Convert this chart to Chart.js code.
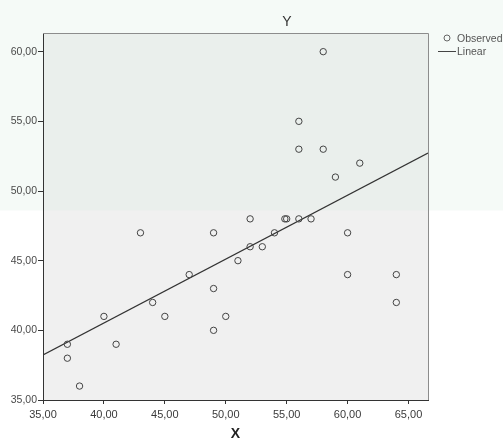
<!DOCTYPE html>
<html>
<head>
<meta charset="utf-8">
<script src="https://cdn.jsdelivr.net/npm/chart.js@4"></script>
<style>
    html, body { margin: 0; padding: 0; background: #ffffff; }
    #wrap { width: 503px; height: 441px; position: relative; }
</style>
</head>
<body>
<div id="wrap"><canvas id="chart" width="503" height="441"></canvas></div>
<script>
// Observed points (X, Y)
const obsX = [58, 56, 56, 58, 61, 59, 43, 49, 52, 54.85, 55, 56, 57, 54, 60, 52, 53, 51, 47, 60, 64, 49, 64, 44, 40, 45, 50, 49, 37, 41, 37, 38];
const obsY = [60, 55, 53, 53, 52, 51, 47, 47, 48, 48, 48, 48, 48, 47, 47, 46, 46, 45, 44, 44, 44, 43, 42, 42, 41, 41, 41, 40, 39, 39, 38, 36];

// Linear fit line, read at the two plot edges
const fitX = [35, 66.6];
const fitY = [38.23, 52.73];

// Axis ticks
const xTicks = [35, 40, 45, 50, 55, 60, 65];
const yTicks = [35, 40, 45, 50, 55, 60];

const fmt = v => v.toFixed(2).replace('.', ',');

/**
 * Background, watermark tint, frame, title and legend
 */
const decorPlugin = {
    id: 'decor',
    beforeDraw(chart) {
        const { ctx, chartArea: a, scales } = chart;
        ctx.save();
        ctx.fillStyle = '#ffffff';
        ctx.fillRect(0, 0, chart.width, chart.height);
        ctx.fillStyle = '#f0f0f0';
        ctx.fillRect(a.left, a.top, a.right - a.left, a.bottom - a.top);
        // faint green watermark tint in the upper part
        const yb = scales.y.getPixelForValue(48.6);
        ctx.fillStyle = 'rgba(222, 240, 228, 0.3)';
        ctx.fillRect(0, 0, chart.width, yb);
        ctx.restore();
    },
    afterDraw(chart) {
        const { ctx, chartArea: a } = chart;
        ctx.save();
        // lighter frame on top and right
        ctx.strokeStyle = '#8c8c8c';
        ctx.lineWidth = 1;
        ctx.beginPath();
        ctx.moveTo(a.left, a.top + 0.5);
        ctx.lineTo(a.right + 0.5, a.top + 0.5);
        ctx.lineTo(a.right + 0.5, a.bottom);
        ctx.stroke();

        // title
        ctx.fillStyle = '#333333';
        ctx.font = '14px "Liberation Sans", Arial, sans-serif';
        ctx.textAlign = 'center';
        ctx.textBaseline = 'middle';
        ctx.fillText('Y', 287, 22);

        // legend
        ctx.font = '10.5px "Liberation Sans", Arial, sans-serif';
        ctx.textAlign = 'left';
        ctx.fillStyle = '#555555';
        ctx.strokeStyle = '#666666';
        ctx.beginPath();
        ctx.arc(447, 38, 3, 0, Math.PI * 2);
        ctx.stroke();
        ctx.fillText('Observed', 457, 39);
        ctx.strokeStyle = '#444444';
        ctx.beginPath();
        ctx.moveTo(438, 51.5);
        ctx.lineTo(456, 51.5);
        ctx.stroke();
        ctx.fillText('Linear', 457, 52);
        ctx.restore();
    }
};

const ctx = document.getElementById('chart');

new Chart(ctx, {
    type: 'scatter',
    data: {
        datasets: [{
            label: 'Observed',
            data: obsX.map((x, i) => ({ x: x, y: obsY[i] })),
            pointRadius: 3.2,
            pointHoverRadius: 3.2,
            pointBorderColor: '#444444',
            pointBackgroundColor: 'rgba(0,0,0,0)',
            pointBorderWidth: 1
        }, {
            label: 'Linear',
            type: 'line',
            data: fitX.map((x, i) => ({ x: x, y: fitY[i] })),
            borderColor: '#333333',
            borderWidth: 1.2,
            pointRadius: 0,
            fill: false
        }]
    },
    options: {
        responsive: false,
        animation: false,
        layout: {
            padding: { top: 33, right: 75, left: 0, bottom: 0 }
        },
        plugins: {
            legend: { display: false },
            title: { display: false },
            tooltip: { enabled: false }
        },
        scales: {
            x: {
                type: 'linear',
                min: 35,
                max: 66.6,
                afterBuildTicks: s => { s.ticks = xTicks.map(v => ({ value: v })); },
                afterFit: s => { s.height = 41; },
                grid: {
                    drawOnChartArea: false,
                    drawTicks: true,
                    tickLength: 4,
                    color: '#333333'
                },
                border: { color: '#333333', width: 1 },
                ticks: {
                    color: '#3a3a3a',
                    padding: 4,
                    maxRotation: 0,
                    font: { family: '"Liberation Sans", Arial, sans-serif', size: 11 },
                    callback: v => fmt(v)
                },
                title: {
                    display: true,
                    text: 'X',
                    color: '#222222',
                    padding: { top: 0, bottom: 0 },
                    font: { family: '"Liberation Sans", Arial, sans-serif', size: 14, weight: 'bold', lineHeight: 1 }
                }
            },
            y: {
                type: 'linear',
                min: 35,
                max: 61.34,
                afterBuildTicks: s => { s.ticks = yTicks.map(v => ({ value: v })); },
                afterFit: s => { s.width = 43; },
                grid: {
                    drawOnChartArea: false,
                    drawTicks: true,
                    tickLength: 5,
                    color: '#333333'
                },
                border: { color: '#333333', width: 1 },
                ticks: {
                    color: '#4a4a4a',
                    padding: 1,
                    font: { family: '"Liberation Sans", Arial, sans-serif', size: 10.5 },
                    callback: v => fmt(v)
                }
            }
        }
    },
    plugins: [decorPlugin]
});
</script>
</body>
</html>
